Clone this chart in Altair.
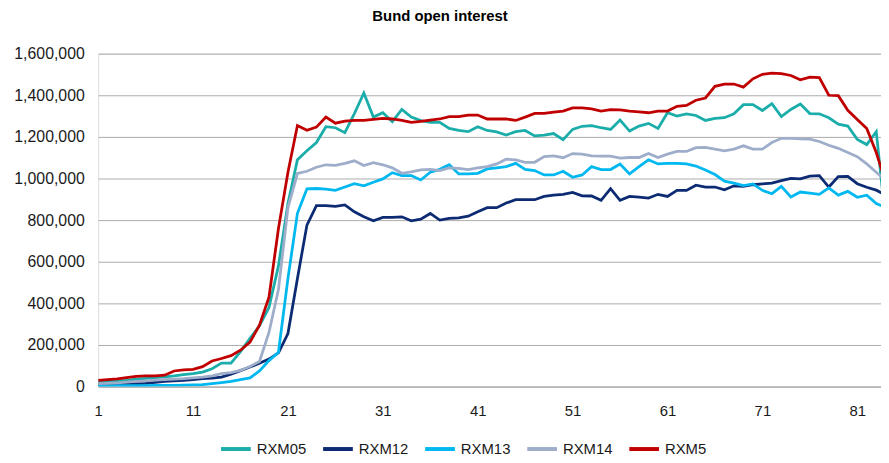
import altair as alt
import pandas as pd

series_names = ["RXM05", "RXM12", "RXM13", "RXM14", "RXM5"]
series_colors = ["#1AADAA", "#0D2B73", "#00B8F0", "#9EADC9", "#C00000"]

days = list(range(1, 85))

# values in thousands
rxm05 = [22, 24, 27, 30, 36, 40, 43, 47, 51, 57, 62, 70, 86, 113, 113, 168, 232, 292, 380, 580,
         880, 1090, 1133, 1173, 1249, 1244, 1220, 1312, 1411, 1295, 1316, 1273, 1332, 1295, 1278, 1270, 1270, 1241, 1231, 1225,
         1249, 1231, 1224, 1209, 1225, 1231, 1205, 1208, 1216, 1187, 1236, 1251, 1254, 1244, 1236, 1281, 1228, 1252, 1265, 1241,
         1316, 1300, 1311, 1303, 1279, 1289, 1292, 1311, 1355, 1355, 1327, 1360, 1298, 1332, 1358, 1312, 1311, 1292, 1261, 1252,
         1188, 1163, 1225, 790]
rxm12 = [10, 11, 12, 13, 14, 16, 20, 25, 28, 30, 34, 38, 41, 46, 60, 77, 94, 112, 132, 162,
         255, 520, 776, 870, 870, 866, 873, 840, 816, 797, 813, 813, 816, 797, 805, 832, 800, 808, 811, 819,
         840, 860, 860, 882, 898, 898, 898, 914, 920, 924, 933, 917, 916, 895, 951, 895, 914, 911, 906, 924,
         914, 943, 943, 968, 959, 959, 946, 965, 962, 970, 974, 978, 990, 1001, 998, 1011, 1014, 959, 1009, 1010,
         975, 958, 944, 920]
rxm13 = [4, 4, 5, 5, 5, 5, 6, 6, 6, 7, 8, 10, 14, 19, 25, 33, 42, 75, 125, 165,
         520, 833, 950, 952, 949, 943, 959, 975, 965, 982, 998, 1028, 1014, 1014, 993, 1030, 1044, 1066, 1022, 1022,
         1025, 1046, 1051, 1057, 1073, 1044, 1038, 1017, 1017, 1035, 1006, 1017, 1057, 1043, 1043, 1070, 1022, 1057, 1090, 1070,
         1073, 1073, 1070, 1060, 1041, 1019, 987, 978, 966, 974, 943, 927, 962, 911, 935, 930, 924, 955, 920, 938,
         910, 920, 880, 860]
rxm14 = [14, 16, 18, 21, 25, 28, 31, 34, 36, 38, 42, 46, 52, 62, 67, 78, 97, 121, 260, 467,
         860, 1024, 1035, 1054, 1066, 1063, 1073, 1085, 1062, 1076, 1066, 1051, 1025, 1032, 1041, 1044, 1038, 1051, 1049, 1043,
         1051, 1057, 1070, 1093, 1089, 1078, 1078, 1105, 1109, 1100, 1120, 1117, 1109, 1108, 1108, 1098, 1101, 1101, 1120, 1101,
         1117, 1130, 1130, 1148, 1149, 1141, 1133, 1141, 1157, 1141, 1141, 1173, 1193, 1193, 1190, 1189, 1178, 1160, 1145, 1125,
         1105, 1070, 1030, 990]
rxm5 = [30, 33, 37, 43, 49, 51, 52, 55, 75, 80, 83, 96, 123, 135, 149, 175, 214, 295, 430, 760,
        1030, 1255, 1232, 1247, 1295, 1266, 1276, 1279, 1279, 1284, 1289, 1286, 1279, 1270, 1275, 1281, 1286, 1297, 1297, 1305,
        1305, 1286, 1286, 1286, 1279, 1295, 1313, 1313, 1319, 1324, 1339, 1339, 1335, 1324, 1331, 1330, 1324, 1320, 1316, 1324,
        1324, 1347, 1351, 1376, 1387, 1443, 1454, 1454, 1439, 1479, 1501, 1506, 1504, 1495, 1474, 1487, 1485, 1400, 1398, 1328,
        1284, 1240, 1125, 980]

x_ticks = [1, 11, 21, 31, 41, 51, 61, 71, 81]
y_ticks = [0, 200000, 400000, 600000, 800000, 1000000, 1200000, 1400000, 1600000]

rows = []
for name, vals in zip(series_names, [rxm05, rxm12, rxm13, rxm14, rxm5]):
    for d, v in zip(days, vals):
        rows.append({"day": d, "series": name, "value": v * 1000})
df = pd.DataFrame(rows)

FONT = "Liberation Sans"

chart = alt.Chart(df).mark_line(strokeWidth=2.8, clip=True, interpolate="linear").encode(
    x=alt.X("day:Q",
            scale=alt.Scale(domain=[1, 83.5], nice=False, zero=False),
            axis=alt.Axis(values=x_ticks, title=None, grid=False, ticks=False, tickSize=0,
                          domain=True, domainColor="#ABABAB", domainWidth=1,
                          labelPadding=17, labelFontSize=15, labelColor="#1a1a1a",
                          labelFont=FONT, labelFlush=False)),
    y=alt.Y("value:Q",
            scale=alt.Scale(domain=[0, 1600000], nice=False),
            axis=alt.Axis(values=y_ticks, format=",.0f", title=None, grid=True,
                          gridColor="#ABABAB", gridWidth=1, domain=False, ticks=False, tickSize=0,
                          labelPadding=14, labelFontSize=16, labelColor="#1a1a1a",
                          labelFont=FONT)),
    color=alt.Color("series:N",
                    scale=alt.Scale(domain=series_names, range=series_colors),
                    legend=alt.Legend(title=None, orient="none", direction="horizontal",
                                      legendX=122, legendY=382, padding=0,
                                      symbolType="stroke", symbolSize=900, symbolStrokeWidth=4,
                                      labelFontSize=15, labelFont=FONT, labelColor="#1a1a1a",
                                      labelOffset=4, columnPadding=8)),
).properties(
    width=790,
    height=336,
    autosize=alt.AutoSizeParams(type="none"),
    padding={"left": 91, "top": 44, "right": 0, "bottom": 72},
    title=alt.TitleParams("Bund open interest", font=FONT, fontSize=15, fontWeight="bold",
                          color="#000000", anchor="middle", dx=-50, offset=22),
).configure_view(stroke=None).configure(background="white")

chart.save("out.html", embed_options={"renderer": "svg", "actions": False})
